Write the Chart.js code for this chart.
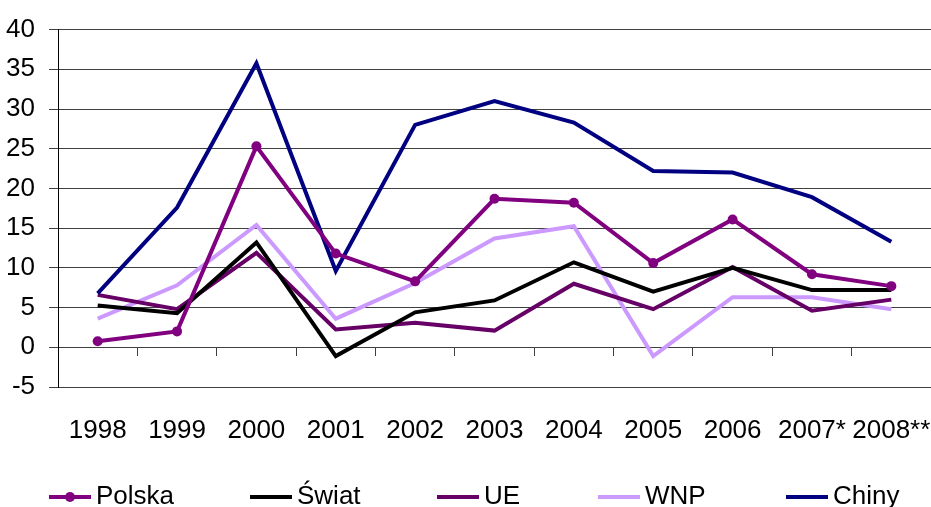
<!DOCTYPE html>
<html>
<head>
<meta charset="utf-8">
<script src="https://cdn.jsdelivr.net/npm/chart.js@4.4.1/dist/chart.umd.min.js"></script>
<style>
  html, body { margin: 0; padding: 0; background: #fff; overflow: hidden; }
  #box { width: 931px; height: 507px; position: relative; }
</style>
</head>
<body>
<div id="box"><canvas id="chart"></canvas></div>
<script>
// years on the x axis
var years = ['1998', '1999', '2000', '2001', '2002', '2003', '2004', '2005', '2006', '2007*', '2008**'];

// values
var polska = [0.75, 2.0, 25.3, 11.8, 8.3, 18.7, 18.2, 10.6, 16.1, 9.2, 7.7];
var swiat  = [5.25, 4.3, 13.2, -1.1, 4.4, 5.9, 10.7, 7.0, 10.0, 7.2, 7.2];
var ue     = [6.6, 4.8, 11.9, 2.25, 3.1, 2.1, 8.0, 4.8, 10.1, 4.6, 6.0];
var wnp    = [3.6, 7.8, 15.4, 3.6, 8.1, 13.7, 15.25, -1.1, 6.3, 6.3, 4.8];
var chiny  = [6.8, 17.6, 35.75, 9.6, 28.0, 31.0, 28.3, 22.2, 22.0, 18.9, 13.3];

var yTicks = { min: -5, max: 40, step: 5 };

var FONT = '"Liberation Sans", Arial, sans-serif';

// legend drawn like the Excel one: a short line (with a dot for Polska), then the name
var legendStarts = [49, 250, 437, 598, 786];
var spreadLegend = {
    id: 'spreadLegend',
    afterDraw: function(chart) {
        var c = chart.ctx;
        c.save();
        c.font = '26px ' + FONT;
        c.textBaseline = 'middle';
        c.textAlign = 'left';
        var y = 497;
        chart.data.datasets.forEach(function(ds, i) {
            var x = legendStarts[i];
            c.strokeStyle = ds.borderColor;
            c.lineWidth = 4;
            c.beginPath();
            c.moveTo(x, y);
            c.lineTo(x + 42, y);
            c.stroke();
            if (ds.pointRadius > 0) {
                c.fillStyle = ds.borderColor;
                c.beginPath();
                c.arc(x + 21, y, 5, 0, Math.PI * 2);
                c.fill();
            }
            c.fillStyle = '#000';
            c.fillText(ds.label, x + 47, y);
        });
        c.restore();
    }
};

var ctx = document.getElementById('chart').getContext('2d');

var data = {
    labels: years,
    datasets: [
        {
            label: 'Polska',
            data: polska,
            borderColor: '#800080',
            backgroundColor: '#800080',
            pointRadius: 5,
            pointHoverRadius: 5,
            pointBackgroundColor: '#800080',
            pointBorderWidth: 0,
            order: 1
        },
        {
            label: 'Świat',
            data: swiat,
            borderColor: '#000000',
            backgroundColor: '#000000',
            pointRadius: 0,
            order: 3
        },
        {
            label: 'UE',
            data: ue,
            borderColor: '#660066',
            backgroundColor: '#660066',
            pointRadius: 0,
            order: 4
        },
        {
            label: 'WNP',
            data: wnp,
            borderColor: '#CC99FF',
            backgroundColor: '#CC99FF',
            pointRadius: 0,
            order: 5
        },
        {
            label: 'Chiny',
            data: chiny,
            borderColor: '#000080',
            backgroundColor: '#000080',
            pointRadius: 0,
            order: 2
        }
    ]
};

var options = {
    responsive: true,
    maintainAspectRatio: false,
    animation: false,
    layout: { autoPadding: false, padding: { top: 12, right: 0, left: 0, bottom: 0 } },
    elements: {
        line: { borderWidth: 4, tension: 0, fill: false }
    },
    plugins: {
        tooltip: { enabled: false },
        legend: { display: false }
    },
    scales: {
        x: {
            type: 'category',
            position: 'bottom',
            offset: true,
            grid: { display: false, drawTicks: false },
            border: { display: false },
            ticks: {
                color: '#000',
                padding: 28,
                maxRotation: 0,
                autoSkip: false,
                font: { family: FONT, size: 26 }
            },
            afterFit: function(scale) {
                scale.height = 120;
                // let the plot run to the right edge like the original
                scale.paddingRight = 0;
                scale.paddingLeft = 0;
            }
        },
        x0: {
            type: 'category',
            labels: years,
            position: { y: 0 },
            offset: true,
            grid: {
                offset: true,
                drawOnChartArea: false,
                drawTicks: true,
                tickLength: 8,
                color: '#404040',
                lineWidth: 1
            },
            border: { display: true, color: '#404040', width: 1 },
            ticks: { display: false },
            afterFit: function(scale) {
                scale.paddingRight = 0;
                scale.paddingLeft = 0;
            }
        },
        y: {
            min: yTicks.min,
            max: yTicks.max,
            grid: {
                color: '#404040',
                lineWidth: 1,
                tickLength: 9
            },
            border: { display: true, color: '#000', width: 1 },
            ticks: {
                stepSize: yTicks.step,
                autoSkip: false,
                color: '#000',
                padding: 14,
                font: { family: FONT, size: 26 }
            },
            afterFit: function(scale) {
                scale.width = 58;
            }
        }
    }
};

var myLineChart = new Chart(ctx, {
    type: 'line',
    data: data,
    options: options,
    plugins: [spreadLegend]
});
</script>
</body>
</html>
